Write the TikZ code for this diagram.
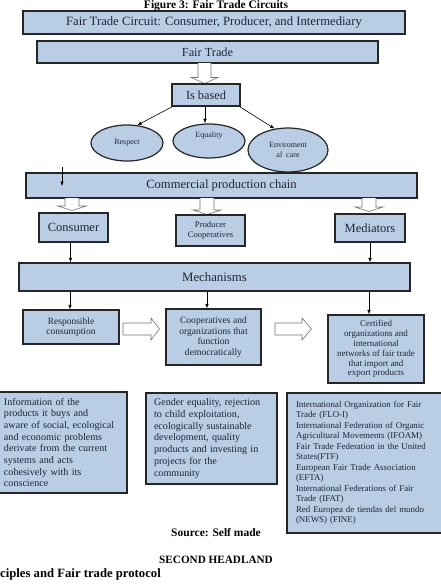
\documentclass[tikz,border=0pt]{standalone}
\usepackage{fontspec}
\setmainfont{Liberation Serif}
\usetikzlibrary{shapes.geometric,arrows.meta}
\definecolor{boxblue}{HTML}{B9CDE5}
\definecolor{txt}{HTML}{1E2638}
\tikzset{
  box/.style={draw=black!85, line width=1.2pt, fill=boxblue, inner sep=1pt, text=txt, align=center},
  oval/.style={ellipse, draw=black!85, line width=1.2pt, fill=boxblue, inner sep=0pt, text=txt, align=center,
     font=\fontsize{8}{9.5}\selectfont},
  conn/.style={draw=black, line width=0.6pt, -{Latex[length=4.5pt,width=3.5pt]}},
  hollow/.style={draw=black!55, line width=0.6pt, fill=white},
  capt/.style={font=\bfseries\fontsize{11.5}{13}\selectfont, text=black, inner sep=0pt}
}
\begin{document}
\begin{tikzpicture}[x=1pt,y=-1pt]
\useasboundingbox (0,0) rectangle (441,584);
\clip (0,0) rectangle (441,584);
% caption
\node[capt, anchor=center] (fig) at (216,6) {Figure 3: Fair Trade Circuits};
% top boxes
\node[box, minimum width=382pt, minimum height=23pt, font=\fontsize{12.7}{14}\selectfont] (title) at (214,22.5) {Fair Trade Circuit: Consumer, Producer, and Intermediary};
\node[box, minimum width=341pt, minimum height=22pt, font=\fontsize{12.3}{14}\selectfont] (fair) at (207.5,52) {Fair Trade};
\draw[hollow] (198,63) -- (198,77.5) -- (191,77.5) -- (204.5,83.5) -- (218,77.5) -- (211,77.5) -- (211,63);
\node[box, minimum width=68pt, minimum height=22pt, font=\fontsize{12.3}{14}\selectfont] (isb) at (206,95) {Is based};
% ellipses
\node[oval, minimum width=72pt, minimum height=36pt] (resp0) at (127,143) {Respect};
\node[oval, minimum width=72pt, minimum height=34pt] (equal) at (209,141) {Equality\\[3pt]};
\node[oval, minimum width=80pt, minimum height=44pt] (env) at (288,150) {Enviroment\\al\ \ care};
\draw[conn] ([xshift=1pt]isb.south west) -- (resp0.60);
\draw[conn] ([xshift=-1pt]isb.south) -- ([xshift=-1pt]isb.south |- equal.north);
\draw[conn] ([xshift=-1pt]isb.south east) -- (env.122);
% commercial chain
\node[box, minimum width=391pt, minimum height=25pt, font=\fontsize{12.6}{14}\selectfont] (chain) at (221.5,185.5) {Commercial production chain};
\coordinate (ca) at (62,167);
\coordinate (cb) at (62,186);
\draw[conn] (ca) -- (cb);
% hollow down arrows from chain
\draw[hollow] (65,198) -- (65,206) -- (57.5,206) -- (72,210.5) -- (86.5,206) -- (79,206) -- (79,198);
\draw[hollow] (200,198) -- (200,210) -- (193,210) -- (207,214.5) -- (221,210) -- (214,210) -- (214,198);
\draw[hollow] (362,198) -- (362,207) -- (355,207) -- (369,211.5) -- (383,207) -- (376,207) -- (376,198);
% actors
\node[box, minimum width=69pt, minimum height=29pt, font=\fontsize{12.5}{14}\selectfont] (cons) at (73.5,227.5) {Consumer};
\node[box, minimum width=69pt, minimum height=31pt, font=\fontsize{8.6}{10}\selectfont] (prod) at (210.5,230.5) {Producer\\Cooperatives};
\node[box, minimum width=70pt, minimum height=28pt, font=\fontsize{12.5}{14}\selectfont] (med) at (370,228) {Mediators};
% mechanisms
\node[box, minimum width=391pt, minimum height=28pt, font=\fontsize{12.8}{15}\selectfont] (mech) at (214.5,277) {Mechanisms};
\draw[conn] ([xshift=-3pt]cons.south) -- ([xshift=-3pt]cons.south |- mech.north);
\draw[conn] (med.south) -- (med.south |- mech.north);
% mechanism outputs
\node[box, minimum width=96pt, minimum height=34pt, font=\fontsize{9.5}{10.5}\selectfont] (rc) at (71,327) {Responsible\\consumption};
\node[box, minimum width=95pt, minimum height=56pt, font=\fontsize{9.6}{10.5}\selectfont] (coop) at (213.5,337) {Cooperatives and\\organizations that\\function\\democratically};
\node[box, minimum width=96pt, minimum height=68pt, font=\fontsize{9}{9.9}\selectfont] (cert) at (376,349) {Certified\\organizations and\\international\\networks of fair trade\\that import and\\export products};
\draw[conn] ([xshift=-1pt]rc.north |- mech.south) -- ([xshift=-1pt]rc.north);
\draw[conn] ([xshift=-6.5pt]coop.north |- mech.south) -- ([xshift=-6.5pt]coop.north);
\draw[conn] ([xshift=-7pt]cert.north |- mech.south) -- ([xshift=-7pt]cert.north);
\draw[hollow] (123,323) -- (151,323) -- (151,318) -- (159.5,329) -- (151,340) -- (151,335) -- (123,335) -- cycle;
\draw[hollow] (275,323) -- (302,323) -- (302,318) -- (311.5,329) -- (302,340) -- (302,335) -- (275,335) -- cycle;
% bottom boxes
\node[box, minimum width=132pt, minimum height=101pt, text width=114pt, align=left, inner sep=0pt, font=\fontsize{10.1}{11.7}\selectfont] (info) at (61,442.5) {Information of the\\products it buys and\\aware of social, ecological\\and economic problems\\derivate from the current\\systems and acts\\cohesively with its\\conscience};
\node[box, minimum width=131pt, minimum height=91pt, text width=115pt, align=left, inner sep=0pt, font=\fontsize{10.1}{11.8}\selectfont] (gend) at (211.5,438.5) {Gender equality, rejection\\to child exploitation,\\ecologically sustainable\\development, quality\\products and investing in\\projects for the\\community};
\node[box, minimum width=158pt, minimum height=140pt, text width=140pt, align=left, inner sep=0pt, font=\fontsize{8.9}{10.5}\selectfont] (org) at (366,463) {International Organization for Fair\\Trade (FLO-I)\\International Federation of Organic\\Agricultural Movements (IFOAM)\\Fair Trade Federation in the United\\States(FTF)\\European Fair Trade Association\\(EFTA)\\International Federations of Fair\\Trade (IFAT)\\Red Europea de tiendas del mundo\\(NEWS) (FINE)};
% captions
\node[capt] (src) at (216,533) {Source: Self made};
\node[capt, font=\bfseries\fontsize{11.2}{13}\selectfont] (head) at (216,560) {SECOND HEADLAND};
\node[capt, anchor=west, font=\bfseries\fontsize{12.7}{14}\selectfont] (sub) at (0,574) {ciples and Fair trade protocol};
\end{tikzpicture}
\end{document}
